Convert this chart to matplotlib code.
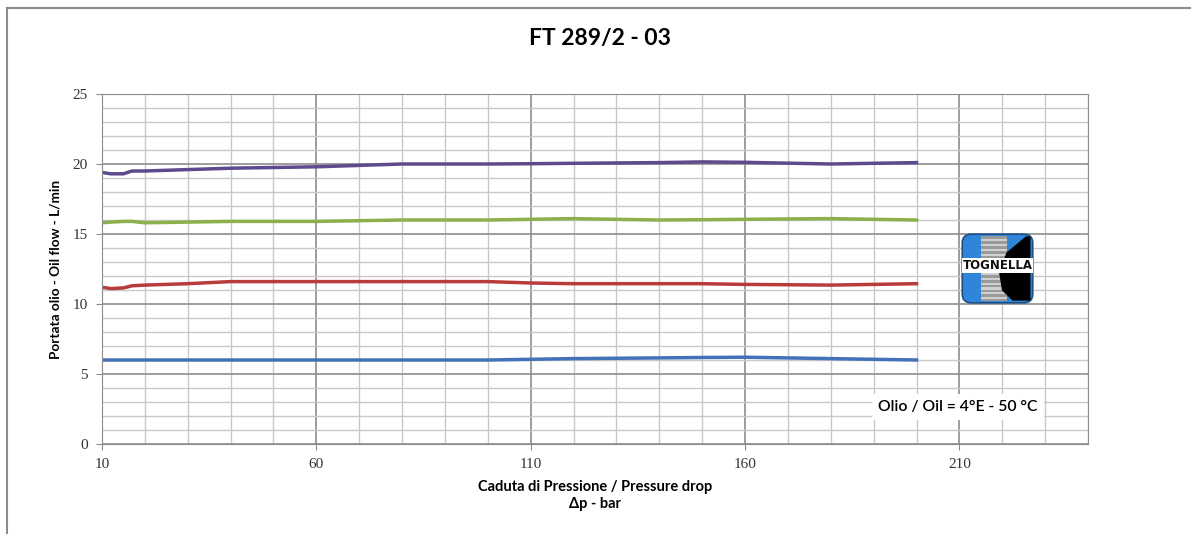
import matplotlib.pyplot as plt
import matplotlib.patches as mpatches
from matplotlib.lines import Line2D

# Dati
pressione = [10, 12, 15, 17, 20, 30, 40, 60, 70, 80, 100, 110, 120, 140, 150, 160, 180, 200]
portata_viola = [19.4, 19.3, 19.3, 19.5, 19.5, 19.6, 19.7, 19.8, 19.9, 20.0, 20.0, 20.02, 20.05, 20.1, 20.15, 20.12, 20.0, 20.1]
portata_verde = [15.8, 15.85, 15.9, 15.9, 15.8, 15.85, 15.9, 15.9, 15.95, 16.0, 16.0, 16.05, 16.1, 16.0, 16.02, 16.05, 16.1, 16.0]
portata_rossa = [11.2, 11.1, 11.15, 11.3, 11.35, 11.45, 11.6, 11.6, 11.6, 11.6, 11.6, 11.5, 11.45, 11.45, 11.45, 11.4, 11.35, 11.45]
portata_blu = [6.0, 6.0, 6.0, 6.0, 6.0, 6.0, 6.0, 6.0, 6.0, 6.0, 6.0, 6.05, 6.1, 6.15, 6.18, 6.2, 6.1, 6.0]

x_ticks = [10, 60, 110, 160, 210]
y_ticks = [0, 5, 10, 15, 20, 25]

W, H = 1191, 534
fig = plt.figure(figsize=(W / 100, H / 100), dpi=100)
ax = fig.add_axes([102 / W, 1 - 444 / H, (1088 - 102) / W, (444 - 94) / H])

# Griglia stile Excel
for xv in range(10, 241, 10):
    major = (xv - 10) % 50 == 0
    ax.axvline(xv, color='#8c8c8c' if major else '#c8c8c8', lw=1.2 if major else 1.0, zorder=0)
for yv in range(0, 26):
    major = yv % 5 == 0
    ax.axhline(yv, color='#8c8c8c' if major else '#c8c8c8', lw=1.2 if major else 1.0, zorder=0)

ax.plot(pressione, portata_blu, color='#4472B8', lw=2.5)
ax.plot(pressione, portata_rossa, color='#B83C3A', lw=2.5)
ax.plot(pressione, portata_verde, color='#8CB04A', lw=2.5)
ax.plot(pressione, portata_viola, color='#5E4A8E', lw=2.5)

ax.set_xlim(10, 240)
ax.set_ylim(0, 25)
ax.set_xticks(x_ticks)
ax.set_yticks(y_ticks)
ax.tick_params(axis='both', length=4, color='#8c8c8c', labelsize=11, pad=6)
for lab in ax.get_xticklabels() + ax.get_yticklabels():
    lab.set_family('Liberation Serif')
    lab.set_color('#333333')
for s in ax.spines.values():
    s.set_color('#8c8c8c')

ax.set_ylabel('Portata olio - Oil flow - L/min', fontsize=9.8, fontweight='bold', family='Lato', labelpad=8)
fig.text(595 / W, 1 - 487 / H, 'Caduta di Pressione / Pressure drop', ha='center', va='center',
         fontsize=10.5, fontweight='bold', family='Lato')
fig.text(595 / W, 1 - 504 / H, 'Δp - bar', ha='center', va='center', fontsize=10.5, fontweight='bold', family='Lato')
fig.text(600 / W, 1 - 38 / H, 'FT 289/2 - 03', ha='center', va='center', fontsize=16.5, fontweight='bold', family='Lato')

fig.text(958 / W, 1 - 407 / H, 'Olio / Oil = 4°E - 50 °C', ha='center', va='center', fontsize=11.3,
         fontweight='semibold', family='Lato', bbox=dict(boxstyle='square,pad=0.4', fc='white', ec='none'))

# Logo TOGNELLA disegnato
lax = fig.add_axes([960 / W, 1 - 305 / H, 75 / W, 73 / H])
lax.set_xlim(0, 1)
lax.set_ylim(0, 1)
lax.axis('off')
lax.add_patch(mpatches.FancyBboxPatch((0.03, 0.03), 0.94, 0.94, boxstyle='round,pad=0,rounding_size=0.12',
                                      fc='#2F86D8', ec='#1d4f86', lw=1.2))
lax.add_patch(mpatches.Rectangle((0.28, 0.06), 0.34, 0.88, fc='#9a9a9a', ec='none'))
for k in range(13):
    yy = 0.08 + k * 0.066
    lax.add_patch(mpatches.Rectangle((0.28, yy), 0.34, 0.03, fc='#d0d0d0', ec='none'))
lax.add_patch(mpatches.Polygon([(0.88, 0.94), (0.62, 0.72), (0.52, 0.45), (0.56, 0.2), (0.7, 0.06),
                                (0.94, 0.06), (0.94, 0.94)], closed=True, fc='black', ec='none'))
lax.add_patch(mpatches.Rectangle((0.03, 0.44), 0.94, 0.2, fc='white', ec='none'))
lax.text(0.5, 0.54, 'TOGNELLA', ha='center', va='center', fontsize=8.5, fontweight='bold',
         family='Liberation Sans Narrow', color='#111111')

# Cornice della figura
fig.add_artist(Line2D([7 / W, 1], [1 - 8 / H, 1 - 8 / H], transform=fig.transFigure, color='#8c8c8c', lw=1.5))
fig.add_artist(Line2D([7 / W, 7 / W], [0, 1 - 8 / H], transform=fig.transFigure, color='#8c8c8c', lw=1.5))

fig.savefig('out.png', dpi=100)
